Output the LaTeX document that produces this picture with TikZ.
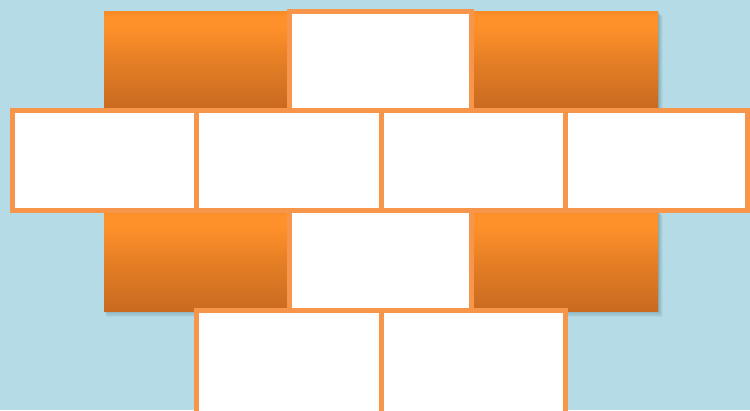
\documentclass[tikz,border=0pt]{standalone}
\usetikzlibrary{calc}
\definecolor{bg}{HTML}{B5DCE6}
\definecolor{edgeor}{HTML}{F7964A}
\definecolor{brtop}{HTML}{F58B27}
\definecolor{brhi}{HTML}{FF912A}
\definecolor{brmid}{HTML}{E67F25}
\definecolor{brbot}{HTML}{C96A20}
\definecolor{shad}{HTML}{3F6470}
\pgfdeclareverticalshading{brickshade}{100bp}{color(0bp)=(brbot); color(25bp)=(brbot); color(50bp)=(brmid); color(67bp)=(brhi); color(72bp)=(brhi); color(75bp)=(brtop); color(100bp)=(brtop)}
\tikzset{
  whitebrick/.style={draw=edgeor, fill=white, line width=5pt, line join=miter},
  orangebrick/.style={shading=brickshade, draw=none},
}
\newcommand{\obrick}[4]{%
  \foreach \s/\o in {5/0.05,4/0.07,3/0.09,2/0.11,1/0.13}{
    \fill[shad, opacity=\o] ($(#1,#2)+(\s*0.5,\s*0.9)$) rectangle ($(#3,#4)+(\s*0.9,\s*1.2)$);
  }
  \shade[orangebrick] (#1,#2) rectangle (#3,#4);
}
\begin{document}
\begin{tikzpicture}[x=1pt,y=-1pt]
\fill[bg] (0,0) rectangle (750,410);
\useasboundingbox (0,0) rectangle (750,410);
% orange bricks
\obrick{104}{11}{289}{108}
\obrick{470}{11}{658}{108}
\obrick{104}{210}{289}{311}
\obrick{470}{210}{658}{311}
% white bricks row 1
\draw[whitebrick] (289.5,11.5) rectangle (471.5,110.5);
% row 2
\draw[whitebrick] (12.5,110.5) rectangle (196.5,210.5);
\draw[whitebrick] (196.5,110.5) rectangle (381,210.5);
\draw[whitebrick] (381,110.5) rectangle (565.5,210.5);
\draw[whitebrick] (565.5,110.5) rectangle (747.5,210.5);
% row 3
\draw[whitebrick] (289.5,210.5) rectangle (471.5,310.5);
% row 4
\draw[whitebrick] (196.5,310.5) rectangle (381,420);
\draw[whitebrick] (381,310.5) rectangle (565.5,420);
\end{tikzpicture}
\end{document}
